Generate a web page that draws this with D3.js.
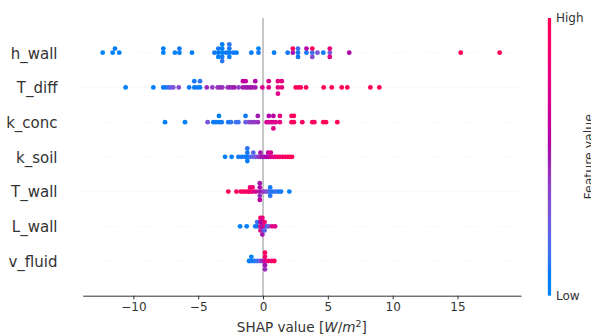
<!DOCTYPE html>
<html>
<head>
<meta charset="utf-8">
<script src="https://cdn.jsdelivr.net/npm/d3@7"></script>
<style>
  body { margin: 0; background: #fff; }
  svg { display: block; font-family: "DejaVu Sans", sans-serif; }
</style>
</head>
<body>
<div id="chart"></div>
<script>
// feature names, top to bottom
const features = ["h_wall", "T_diff", "k_conc", "k_soil", "T_wall", "L_wall", "v_fluid"];

// [shap value, normalised feature value] per sample
const hWall = [
  [-12.37, .05], [-11.6, .05], [-11.42, .08], [-11.09, .05],
  [-7.69, .05], [-7.69, .08], [-6.8, .05], [-6.45, .06], [-6.45, .1], [-5.48, .08],
  [-3.75, .1], [-3.45, .08], [-3.45, .1], [-3.45, .05],
  [-3.15, .05], [-3.15, .08], [-3.15, .1], [-3.15, .06], [-3.15, .12],
  [-2.85, .1], [-2.6, .08], [-2.6, .1], [-2.6, .05], [-2.6, .12], [-2.3, .1], [-2.05, .08],
  [-0.9, .08], [-0.35, .1], [-0.35, .05], [0.85, .08], [1.9, .1],
  [2.3, .5], [2.3, .95], [2.7, .1], [2.7, .15], [2.7, .1],
  [3.35, .1], [3.35, .55], [3.8, .15], [3.8, .95], [3.8, .35],
  [4.2, .3], [4.65, .1], [5.15, .3], [5.15, .8], [5.15, .75],
  [6.65, .55], [15.25, 1], [18.25, 1]
];
const tDiff = [
  [-10.6, .05], [-8.46, .05], [-7.69, .08], [-7.48, .1], [-7.28, .15], [-7.1, .25], [-6.92, .3],
  [-6.5, .35], [-5.7, .1], [-5.3, .08], [-5.3, .1], [-5.07, .1], [-4.86, .08], [-4.86, .12],
  [-4.34, .45], [-3.91, .4], [-3.5, .42], [-3.32, .45], [-3.14, .45], [-2.72, .45], [-2.55, .48],
  [-2.37, .45], [-2.21, .5], [-1.88, .4], [-1.55, .5], [-1.55, .6], [-1.34, .5], [-1.34, .62],
  [-1.18, .5], [-1.0, .52], [-0.83, .5], [-0.6, .5], [-0.6, .55],
  [-0.05, .7], [0.44, .75], [0.44, .72], [1.15, .78], [1.15, .8], [1.15, .75], [1.45, .8], [1.45, .78],
  [2.52, .95], [2.72, .95], [2.91, .97], [3.32, .95], [4.68, .97], [5.3, .97], [6.07, .98],
  [6.5, .98], [8.28, 1], [8.97, 1]
];
const kConc = [
  [-7.56, .05], [-6.02, .05], [-4.27, .3], [-3.83, .08], [-3.63, .1], [-3.4, .05], [-3.4, .08],
  [-3.19, .1], [-2.68, .1], [-2.47, .12], [-2.08, .15], [-1.9, .15], [-1.35, .25], [-1.35, .1],
  [-1.08, .35], [-0.87, .4], [-0.67, .4], [-0.4, .45], [-0.4, .5],
  [0.28, .7], [0.45, .7], [0.45, .55], [0.62, .72], [0.8, .7], [0.8, .58], [0.8, .75],
  [0.98, .75], [1.3, .78], [1.3, .8], [2.2, .95], [2.2, .95], [2.38, .97], [2.38, .95],
  [3.03, .95], [3.8, .97], [3.96, .95], [4.65, .97], [4.86, 1], [5.73, 1]
];
const kSoil = [
  [-2.93, .05], [-2.42, .05], [-1.9, .1], [-1.65, .1], [-1.39, .1],
  [-1.21, .05], [-1.21, .1], [-1.21, .08], [-1.21, .12], [-1.0, .15],
  [-0.75, .25], [-0.75, .2], [-0.54, .3], [-0.36, .4], [-0.2, .45], [-0.2, .5],
  [-0.05, .5], [0.1, .5], [0.25, .55], [0.4, .55], [0.4, .6], [0.6, .7], [0.6, .72],
  [0.8, .75], [0.95, .8], [1.1, .85], [1.3, .9], [1.5, .9], [1.7, .95], [1.9, .95], [2.05, .97], [2.24, 1]
];
const tWall = [
  [-2.68, 1], [-2.05, .95], [-1.72, .95], [-1.52, .95], [-1.31, .9], [-1.13, .9],
  [-1.0, .9], [-1.0, .85], [-0.8, .8], [-0.8, .85], [-0.55, .7],
  [-0.25, .5], [-0.25, .55], [-0.25, .45], [-0.25, .5], [-0.25, .6],
  [0.0, .45], [0.2, .35], [0.38, .3], [0.55, .15], [0.55, .1], [0.55, .12],
  [0.75, .1], [0.95, .15], [1.18, .1], [1.39, .1], [2.03, .05]
];
const lWall = [
  [-1.77, .05], [-1.26, .05], [-0.6, .1], [-0.45, .1], [-0.45, .15],
  [-0.2, .75], [-0.2, .55], [-0.2, .8], [-0.2, .85],
  [-0.05, .5], [-0.05, .55], [-0.05, .45], [-0.05, .8], [-0.05, .5],
  [0.12, .8], [0.12, .85], [0.12, .2], [0.3, .15], [0.45, .3], [0.7, .75], [0.93, .75]
];
const vFluid = [
  [-1.08, .05], [-0.9, .1], [-0.9, .05], [-0.67, .1], [-0.46, .15], [-0.23, .3], [-0.05, .45],
  [0.15, .7], [0.15, .9], [0.15, .5], [0.15, .95], [0.15, .45],
  [0.41, .9], [0.67, .85], [0.87, .95]
];
const rows = [hWall, tDiff, kConc, kSoil, tWall, lWall, vFluid];

const xTicks = [-10, -5, 0, 5, 10, 15];
const xDomain = [-13.91, 19.9];
const cbarLabels = ["Low", "High"];

const W = 591, H = 335;
const box = { left: 82.7, right: 521, top: 18, bottom: 295.7 };

const svg = d3.select("#chart").append("svg").attr("width", W).attr("height", H);

const x = d3.scaleLinear().domain(xDomain).range([box.left, box.right]);
const y = d3.scaleLinear().domain([-1, features.length]).range([box.bottom, box.top]);

// shap red_blue colormap (lch, blue -> red)
const blueLch = [54, 70, 4.6588], redLch = [54, 90, 0.35470565 + 2 * Math.PI];
function shapColor(f) {
  const L = 40 + (54 - 40) * Math.abs(2 * f - 1);
  const C = blueLch[1] + (redLch[1] - blueLch[1]) * f;
  const h = (blueLch[2] + (redLch[2] - blueLch[2]) * f) * 180 / Math.PI;
  return d3.hcl(h, C, L).formatHex();
}

// shap beeswarm stacking
function swarm(data) {
  const vals = data.map(d => d[0]);
  const lo = d3.min(vals), hi = d3.max(vals);
  const q = vals.map(v => Math.round(100 * (v - lo) / (hi - lo + 1e-8)));
  const order = d3.range(data.length).sort((a, b) => q[a] - q[b] || a - b);
  const ys = new Array(data.length).fill(0);
  let layer = 0, last = -1;
  order.forEach(i => {
    if (q[i] !== last) layer = 0;
    ys[i] = Math.ceil(layer / 2) * ((layer % 2) * 2 - 1);
    layer++;
    last = q[i];
  });
  const k = 0.9 * 0.4 / d3.max(ys, v => v + 1);
  return ys.map(v => v * k);
}

// row guide lines
svg.append("g").selectAll("line").data(features).join("line")
  .attr("x1", box.left).attr("x2", box.right)
  .attr("y1", (d, i) => y(features.length - 1 - i)).attr("y2", (d, i) => y(features.length - 1 - i))
  .attr("stroke", "#cccccc").attr("stroke-width", 0.6).attr("stroke-dasharray", "0.6 3");

// zero line
svg.append("line")
  .attr("x1", x(0)).attr("x2", x(0)).attr("y1", box.top).attr("y2", box.bottom)
  .attr("stroke", "#999999").attr("stroke-width", 1.1);

// dots
rows.forEach((data, i) => {
  const pos = features.length - 1 - i;
  const ys = swarm(data);
  svg.append("g").selectAll("circle").data(data).join("circle")
    .attr("cx", d => x(d[0]))
    .attr("cy", (d, j) => y(pos + ys[j]))
    .attr("r", 2.4)
    .attr("fill", d => shapColor(d[1]));
});

// feature labels
svg.append("g").selectAll("text").data(features).join("text")
  .attr("x", 57.5).attr("y", (d, i) => y(features.length - 1 - i) + 0.5)
  .attr("text-anchor", "end").attr("dy", "0.36em")
  .attr("font-size", 15).attr("fill", "#333333")
  .text(d => d);

// x axis
const ax = svg.append("g").attr("transform", `translate(0,${box.bottom})`)
  .call(d3.axisBottom(x).tickValues(xTicks).tickSize(3.7).tickPadding(3.5).tickSizeOuter(0));
ax.select(".domain").attr("stroke", "#333333").attr("stroke-width", 1);
ax.selectAll(".tick line").attr("stroke", "#333333");
ax.selectAll(".tick text").attr("font-size", 12).attr("fill", "#333333")
  .attr("font-family", "DejaVu Sans, sans-serif");

const xl = svg.append("text").attr("x", (box.left + box.right) / 2).attr("y", 332)
  .attr("text-anchor", "middle").attr("font-size", 13.6).attr("fill", "#333333");
xl.append("tspan").text("SHAP value [");
xl.append("tspan").attr("font-style", "italic").text("W");
xl.append("tspan").text("/");
xl.append("tspan").attr("font-style", "italic").text("m");
xl.append("tspan").attr("font-size", 9.5).attr("dy", -5.5).text("2");
xl.append("tspan").attr("dy", 5.5).text("]");

// colorbar
const cb = { x: 547.8, w: 3.3 };
const grad = svg.append("defs").append("linearGradient")
  .attr("id", "cbar").attr("x1", 0).attr("y1", 1).attr("x2", 0).attr("y2", 0);
grad.selectAll("stop").data(d3.range(0, 1.0001, 0.02)).join("stop")
  .attr("offset", d => d).attr("stop-color", d => shapColor(d));
const cy = d3.scaleLinear().domain([0, 1]).range([box.bottom, box.top]);
svg.append("rect").attr("x", cb.x).attr("y", cy(1)).attr("width", cb.w)
  .attr("height", cy(0) - cy(1)).attr("fill", "url(#cbar)");
svg.append("g").selectAll("text").data(cbarLabels).join("text")
  .attr("x", 556).attr("y", (d, i) => cy(i)).attr("dy", "0.36em")
  .attr("font-size", 12).attr("fill", "#333333").text(d => d);
svg.append("text")
  .attr("transform", `translate(593,${(box.top + box.bottom) / 2}) rotate(-90)`)
  .attr("text-anchor", "middle").attr("font-size", 12.5).attr("fill", "#333333")
  .text("Feature value");
</script>
</body>
</html>
